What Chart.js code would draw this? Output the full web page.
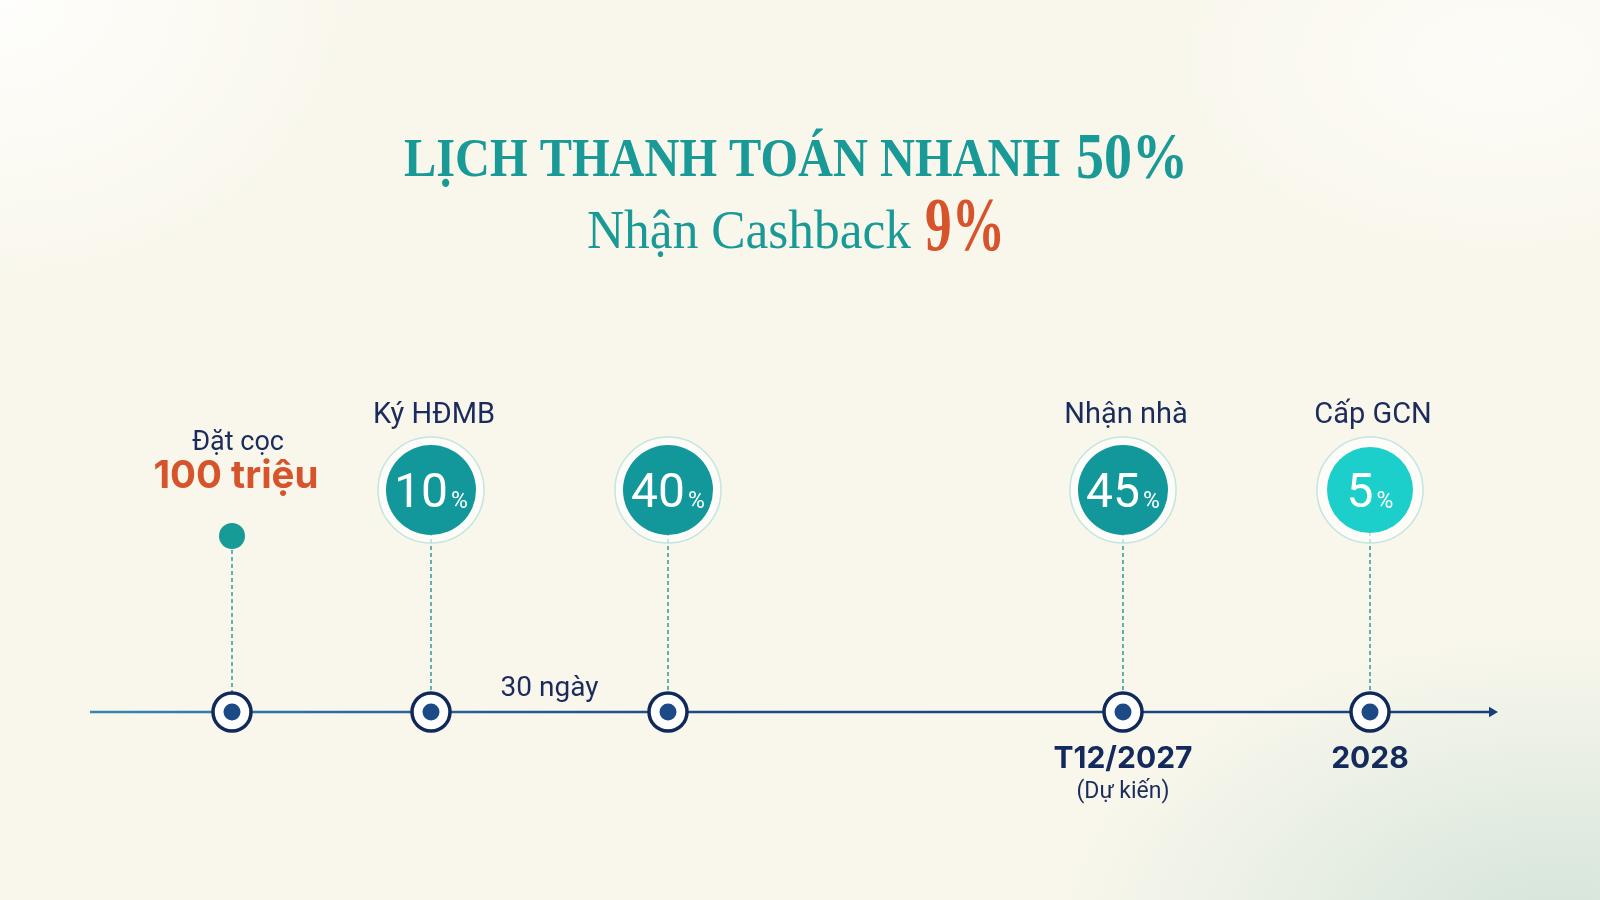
<!DOCTYPE html>
<html lang="vi">
<head>
<meta charset="utf-8">
<title>Lịch thanh toán nhanh 50%</title>
<script src="https://cdn.jsdelivr.net/npm/chart.js@4.4.1/dist/chart.umd.min.js"></script>
<style>
  html, body { margin: 0; padding: 0; }
  body {
    width: 1600px; height: 900px; overflow: hidden;
    background:
      radial-gradient(ellipse 720px 420px at 1560px 930px, rgba(200, 222, 212, 0.75), rgba(200, 222, 212, 0) 70%),
      radial-gradient(ellipse 520px 420px at 0px 0px, rgba(255, 255, 255, 0.85), rgba(255, 255, 255, 0) 70%),
      radial-gradient(ellipse 500px 300px at 1500px 60px, rgba(255, 255, 255, 0.6), rgba(255, 255, 255, 0) 70%),
      #f9f7ec;
  }
  #timeline { display: block; }
</style>
</head>
<body>
<canvas id="timeline" width="1600" height="900"></canvas>
<script>
  // payment steps along the timeline
  var steps = ["Đặt cọc", "Ký HĐMB", "", "Nhận nhà", "Cấp GCN"];
  var stepPos = [1.16, 2.155, 3.34, 5.615, 6.85];
  var payPct = [null, 10, 40, 45, 5];
  var stepDates = ["", "", "", "T12/2027", "2028"];
  var dateNotes = ["", "", "", "(Dự kiến)", ""];
  var circleColors = ["#12989a", "#12989a", "#12989a", "#12989a", "#1dcfca"];
  var depositAmount = "100 triệu";
  var gapText = "30 ngày";

  var titleMain = "LỊCH THANH TOÁN NHANH";
  var titlePct = "50%";
  var subMain = "Nhận Cashback";
  var subPct = "9%";

  var lineStart = 0.45, lineEnd = 7.46;
  var circleLevel = 2.22, dotLevel = 1.76;

  var teal = "#1a9a97", navy = "#10285a", orange = "#d6532b";

  var paidIdx = [];
  payPct.forEach(function (p, i) { if (p !== null) paidIdx.push(i); });
  var circlePts = paidIdx.map(function (i) { return { x: stepPos[i], y: circleLevel }; });
  var markerPts = stepPos.map(function (x) { return { x: x, y: 0 }; });
  var connectorPts = [];
  stepPos.forEach(function (x, i) {
    var top = payPct[i] === null ? dotLevel : circleLevel;
    connectorPts.push({ x: x, y: top }, { x: x, y: 0 }, { x: x, y: null });
  });

  function drawRuns(ctx, runs, cx, baseline) {
    var total = 0;
    runs.forEach(function (r) { total += r.w + (r.gap || 0); });
    var left = cx - total / 2;
    runs.forEach(function (r) {
      ctx.font = r.font;
      var nat = ctx.measureText(r.t).width;
      ctx.save();
      ctx.translate(left, baseline + (r.dy || 0));
      ctx.scale(r.w / nat, 1);
      ctx.fillStyle = r.color;
      ctx.textAlign = "left";
      ctx.fillText(r.t, 0, 0);
      ctx.restore();
      left += r.w + (r.gap || 0);
    });
  }

  var textPlugin = {
    id: "timelineText",
    afterDatasetsDraw: function (chart) {
      var ctx = chart.ctx, xs = chart.scales.x, ys = chart.scales.y;
      var yc = ys.getPixelForValue(circleLevel);
      var y0 = ys.getPixelForValue(0);
      var yd = ys.getPixelForValue(dotLevel);
      var cx = chart.width / 2 - 4;
      ctx.save();
      ctx.textBaseline = "alphabetic";

      // heading
      drawRuns(ctx, [
        { t: titleMain, font: "bold 54px 'Liberation Serif'", color: teal, w: 656, gap: 16 },
        { t: titlePct, font: "bold 66px 'Liberation Serif'", color: teal, w: 112, dy: 2 }
      ], cx, 176);
      drawRuns(ctx, [
        { t: subMain, font: "54px 'Liberation Serif'", color: teal, w: 324, gap: 14 },
        { t: subPct, font: "bold 76px 'Liberation Serif'", color: orange, w: 80, dy: 2 }
      ], cx, 248);

      ctx.textAlign = "center";
      stepPos.forEach(function (pos, i) {
        var x = xs.getPixelForValue(pos);
        if (payPct[i] !== null) {
          // percentage inside circle
          ctx.font = "48px Roboto";
          var wd = ctx.measureText(String(payPct[i])).width;
          ctx.font = "23px Roboto";
          var wp = ctx.measureText("%").width;
          var start = x - (wd + 3 + wp) / 2;
          ctx.fillStyle = "#ffffff";
          ctx.textAlign = "left";
          ctx.font = "48px Roboto";
          ctx.fillText(String(payPct[i]), start, yc + 17);
          ctx.font = "23px Roboto";
          ctx.fillText("%", start + wd + 3, yc + 18);
          ctx.textAlign = "center";
          if (steps[i]) {
            ctx.font = "29px Roboto";
            ctx.fillStyle = "#1b2b5c";
            ctx.fillText(steps[i], x + 3, yc - 67);
          }
        } else {
          ctx.font = "27px Roboto";
          ctx.fillStyle = "#1b2b5c";
          ctx.fillText(steps[i], x + 6, yd - 86);
          ctx.font = "bold 38.5px Inter";
          ctx.fillStyle = orange;
          ctx.fillText(depositAmount, x + 4, yd - 48);
        }
        if (stepDates[i]) {
          ctx.font = "bold 30px Inter";
          ctx.fillStyle = "#142a5c";
          ctx.fillText(stepDates[i], x, y0 + 56);
        }
        if (dateNotes[i]) {
          ctx.font = "23px Roboto";
          ctx.fillStyle = "#1b2b5c";
          ctx.fillText(dateNotes[i], x, y0 + 86);
        }
      });

      ctx.font = "28px Roboto";
      ctx.fillStyle = "#1b2b5c";
      ctx.fillText(gapText, xs.getPixelForValue((stepPos[1] + stepPos[2]) / 2), y0 - 16);
      ctx.restore();
    }
  };

  new Chart("timeline", {
    type: "scatter",
    data: {
      datasets: [{
        type: "line",
        data: [{ x: lineStart, y: 0 }, { x: lineEnd, y: 0 }],
        borderColor: function (c) {
          var a = c.chart.chartArea;
          if (!a) return navy;
          var g = c.chart.ctx.createLinearGradient(a.left, 0, a.right, 0);
          g.addColorStop(0, "#3990b9");
          g.addColorStop(0.2, "#2b6fa1");
          g.addColorStop(0.42, "#1c4d86");
          g.addColorStop(1, "#17407a");
          return g;
        },
        borderWidth: 2.5,
        pointRadius: [0, 6],
        pointStyle: "triangle",
        pointRotation: 90,
        pointBackgroundColor: "#17407a",
        pointBorderWidth: 0,
        order: 10
      }, {
        type: "line",
        data: connectorPts,
        borderColor: "#2a9d99",
        borderWidth: 1.5,
        borderDash: [4, 3],
        pointRadius: 0,
        spanGaps: false,
        order: 9
      }, {
        data: circlePts,
        pointRadius: 53,
        pointBackgroundColor: "rgba(255,255,255,0.65)",
        pointBorderColor: "rgba(150,214,208,0.55)",
        pointBorderWidth: 1.5,
        order: 8
      }, {
        data: circlePts,
        pointRadius: paidIdx.map(function (i) { return payPct[i] < 10 ? 43 : 45; }),
        pointBackgroundColor: paidIdx.map(function (i) { return circleColors[i]; }),
        pointBorderWidth: 0,
        order: 7
      }, {
        data: [{ x: stepPos[0], y: dotLevel }],
        pointRadius: 13,
        pointBackgroundColor: "#179b97",
        pointBorderWidth: 0,
        order: 6
      }, {
        data: markerPts,
        pointRadius: 19,
        pointBackgroundColor: "#ffffff",
        pointBorderColor: navy,
        pointBorderWidth: 3.5,
        order: 5
      }, {
        data: markerPts,
        pointRadius: 8.5,
        pointBackgroundColor: "#1b4a86",
        pointBorderWidth: 0,
        order: 4
      }]
    },
    options: {
      responsive: false,
      animation: false,
      events: [],
      layout: { padding: 0, autoPadding: false },
      plugins: { legend: { display: false }, tooltip: { enabled: false } },
      scales: {
        x: { type: "linear", display: false, min: 0, max: 8 },
        y: { type: "linear", display: false, min: -1.88, max: 7.12 }
      }
    },
    plugins: [textPlugin]
  });
</script>
</body>
</html>
